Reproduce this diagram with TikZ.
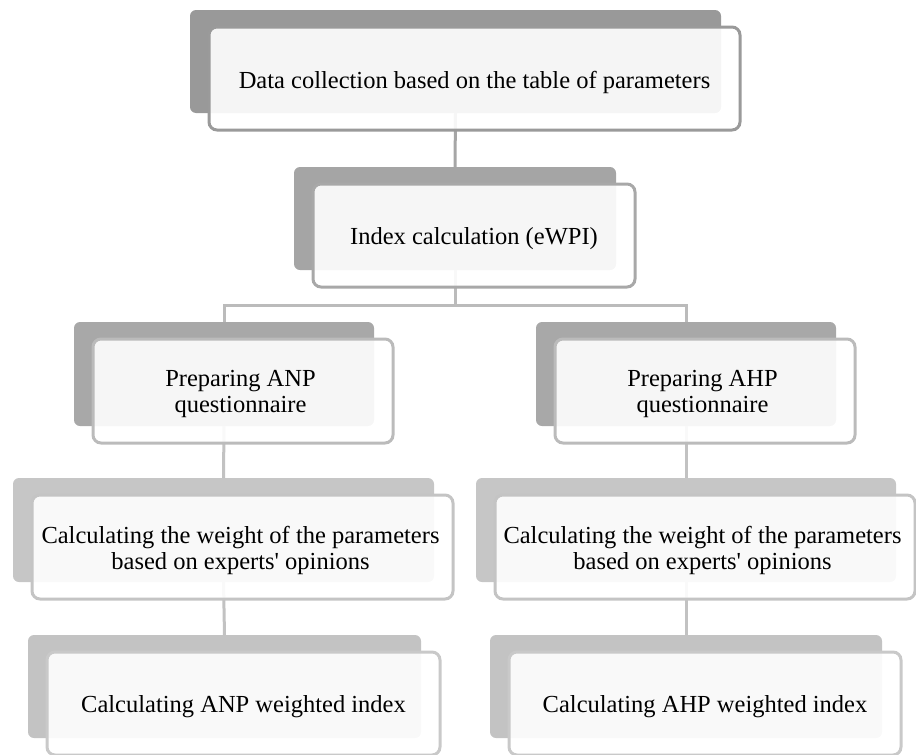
\documentclass[tikz,border=0pt]{standalone}
\usepackage{fontspec}
\setmainfont{Liberation Serif}
\definecolor{bkA}{HTML}{999999}
\definecolor{lnA}{HTML}{9A9A9A}
\definecolor{bkB}{HTML}{A5A5A5}
\definecolor{lnB}{HTML}{A8A8A8}
\definecolor{bkC}{HTML}{A8A8A8}
\definecolor{lnC}{HTML}{BBBBBB}
\definecolor{bkD}{HTML}{C6C6C6}
\definecolor{lnD}{HTML}{C4C4C4}
\definecolor{bkE}{HTML}{C3C3C3}
\definecolor{lnE}{HTML}{C9C9C9}
\definecolor{conA}{HTML}{A6A6A6}
\definecolor{conB}{HTML}{BBBBBB}
\definecolor{conC}{HTML}{C2C2C2}
\begin{document}
\begin{tikzpicture}[x=1pt,y=-1pt,
  back/.style={rounded corners=6pt, inner sep=0pt, outer sep=0pt, draw=none},
  front/.style={rounded corners=8pt, inner sep=0pt, outer sep=0pt, line width=3pt,
    fill=white, fill opacity=0.9, draw opacity=1},
  txt/.style={inner sep=0pt, align=center, font=\fontsize{24.5}{26}\selectfont},
  link/.style={line width=3pt}]
\useasboundingbox (0,0) rectangle (916,755);
% back plates
\node[back, fill=bkA, minimum width=531pt, minimum height=103pt] (b1) at (455.5,61.5) {};
\node[back, fill=bkB, minimum width=322pt, minimum height=103pt] (b2) at (455,218.5) {};
\node[back, fill=bkC, minimum width=300pt, minimum height=104pt] (b3) at (224,374) {};
\node[back, fill=bkC, minimum width=300pt, minimum height=104pt] (b4) at (686,374) {};
\node[back, fill=bkD, minimum width=421pt, minimum height=104pt] (b5) at (223.5,530) {};
\node[back, fill=bkD, minimum width=420pt, minimum height=104pt] (b6) at (686,530) {};
\node[back, fill=bkE, minimum width=393pt, minimum height=103pt] (b7) at (224.5,686.5) {};
\node[back, fill=bkE, minimum width=392pt, minimum height=103pt] (b8) at (686,686.5) {};
% connectors
\draw[link, draw=conA] (b1.south) -- (b2.north);
\draw[link, draw=conB] (b2.south) -- ++(0,35) coordinate (j);
\draw[link, draw=conB] (b3.north) |- (j) -| (b4.north);
\draw[link, draw=conC] (b3.south) -- (b5.north);
\draw[link, draw=conC] (b5.south) -- (b7.north);
\draw[link, draw=conC] (b4.south) -- (b6.north);
\draw[link, draw=conC] (b6.south) -- (b8.north);
% front boxes
\node[front, draw=lnA, minimum width=531pt, minimum height=103pt] (f1) at (474.5,78.5) {};
\node[front, draw=lnB, minimum width=322pt, minimum height=103pt] (f2) at (474,235.5) {};
\node[front, draw=lnC, minimum width=300pt, minimum height=104pt] (f3) at (243,391) {};
\node[front, draw=lnC, minimum width=300pt, minimum height=104pt] (f4) at (705,391) {};
\node[front, draw=lnD, minimum width=421pt, minimum height=104pt] (f5) at (242.5,547) {};
\node[front, draw=lnD, minimum width=420pt, minimum height=104pt] (f6) at (705,547) {};
\node[front, draw=lnE, minimum width=393pt, minimum height=103pt] (f7) at (243.5,703.5) {};
\node[front, draw=lnE, minimum width=392pt, minimum height=103pt] (f8) at (705,703.5) {};
% texts
\node[txt] (t1) at ([yshift=-3.5pt]f1.center) {Data collection based on the table of parameters};
\node[txt] (t2) at ([yshift=-3pt]f2.center) {Index calculation (eWPI)};
\node[txt] (t3) at ([xshift=-2.5pt,yshift=-3pt]f3.center) {Preparing ANP\\questionnaire};
\node[txt] (t4) at ([xshift=-2.5pt,yshift=-3pt]f4.center) {Preparing AHP\\questionnaire};
\node[txt] (t5) at ([xshift=-2pt,yshift=-3pt]f5.center) {Calculating the weight of the parameters\\based on experts\textquotesingle{} opinions};
\node[txt] (t6) at ([xshift=-2.5pt,yshift=-3pt]f6.center) {Calculating the weight of the parameters\\based on experts\textquotesingle{} opinions};
\node[txt] (t7) at ([yshift=-3pt]f7.center) {Calculating ANP weighted index};
\node[txt] (t8) at ([yshift=-3pt]f8.center) {Calculating AHP weighted index};
\end{tikzpicture}
\end{document}
